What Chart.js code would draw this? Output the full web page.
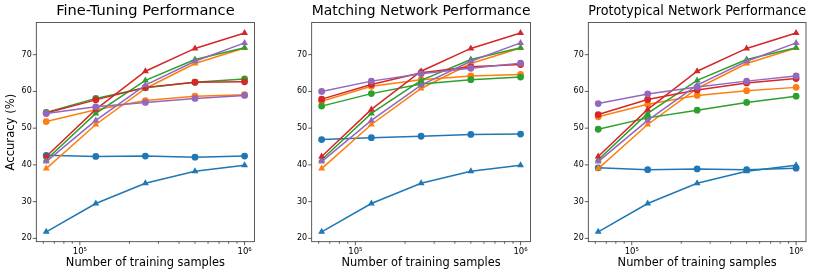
<!DOCTYPE html>
<html>
<head>
<meta charset="utf-8">
<script src="https://cdn.jsdelivr.net/npm/chart.js@4.4.1/dist/chart.umd.min.js"></script>
<style>
  html, body { margin: 0; padding: 0; background: #fff; }
  #wrap { position: relative; width: 830px; height: 277px; }
  #wrap canvas { position: absolute; left: 0; top: 0; }
</style>
</head>
<body>
<div id="wrap">
  <canvas id="c1" width="830" height="277"></canvas>
  <canvas id="c2" width="830" height="277"></canvas>
  <canvas id="c3" width="830" height="277"></canvas>
</div>
<script>
// training set sizes (x)
const xSamples = [62500, 125000, 250000, 500000, 1000000];
const xMajorTicks = [100000, 1000000];
const xMajorLabels = ["10\u2075", "10\u2076"];
const xMinorTicks = [60000, 70000, 80000, 90000, 200000, 300000, 400000, 500000, 600000, 700000, 800000, 900000];
const yTicks = [20, 30, 40, 50, 60, 70];

// triangle series (same in all three panels)
const triBlue = [21.8, 29.5, 35.0, 38.3, 39.9];
const triOrange = [39.0, 51.0, 60.8, 67.6, 71.8];
const triGreen = [41.4, 54.0, 63.0, 68.7, 71.9];
const triRed = [42.3, 55.1, 65.5, 71.7, 75.9];
const triPurple = [40.9, 52.1, 61.7, 68.2, 73.2];

// circle series, fine-tuning
const ftBlue = [42.6, 42.3, 42.4, 42.1, 42.4];
const ftOrange = [51.8, 55.0, 57.5, 58.7, 59.1];
const ftGreen = [54.3, 58.1, 61.0, 62.5, 63.4];
const ftRed = [54.1, 57.7, 61.1, 62.5, 62.6];
const ftPurple = [54.0, 55.8, 57.0, 58.1, 58.9];

// circle series, matching network
const mnBlue = [46.9, 47.4, 47.8, 48.3, 48.4];
const mnOrange = [57.3, 61.4, 63.2, 64.2, 64.6];
const mnGreen = [56.0, 59.4, 62.0, 63.2, 63.9];
const mnRed = [57.9, 61.9, 65.1, 66.7, 67.3];
const mnPurple = [60.0, 62.8, 64.8, 66.3, 67.7];

// circle series, prototypical network
const pnBlue = [39.2, 38.7, 38.9, 38.7, 39.1];
const pnOrange = [53.1, 56.5, 58.9, 60.2, 61.1];
const pnGreen = [49.7, 52.8, 54.9, 57.0, 58.7];
const pnRed = [53.7, 57.8, 60.4, 62.3, 63.5];
const pnPurple = [56.7, 59.3, 61.2, 62.8, 64.2];

const colors = ["#1f77b4", "#ff7f0e", "#2ca02c", "#d62728", "#9467bd"];
const FONT = "'DejaVu Sans', sans-serif";

// frame + tick marks, like matplotlib spines
const frameTicks = {
  id: "frameTicks",
  afterDraw(chart) {
    const { ctx, chartArea: a, scales: { x, y } } = chart;
    ctx.save();
    ctx.strokeStyle = "#333";
    ctx.lineWidth = 0.8;
    ctx.strokeRect(a.left, a.top, a.right - a.left, a.bottom - a.top);
    ctx.beginPath();
    x.ticks.forEach((t) => {
      const px = x.getPixelForValue(t.value);
      ctx.moveTo(px, a.bottom);
      ctx.lineTo(px, a.bottom + (t.major ? 3.5 : 2));
    });
    y.ticks.forEach((t) => {
      const py = y.getPixelForValue(t.value);
      ctx.moveTo(a.left, py);
      ctx.lineTo(a.left - 3.5, py);
    });
    ctx.stroke();
    ctx.restore();
  },
};

function makeDatasets(circles, triangles) {
  const out = [];
  circles.forEach((vals, i) => {
    out.push({ vals, style: "circle", r: 3.4, c: colors[i] });
    out.push({ vals: triangles[i], style: "triangle", r: 4, c: colors[i] });
  });
  // later series drawn on top (as in the original)
  return out.reverse().map((d) => ({
    data: d.vals.map((v, k) => ({ x: xSamples[k], y: v })),
    borderColor: d.c,
    backgroundColor: d.c,
    borderWidth: 1.5,
    pointStyle: d.style,
    pointRadius: d.r,
    pointBorderWidth: 0,
    tension: 0,
  }));
}

function makePanel(id, title, circles, pad, yWidth, showYTitle) {
  new Chart(document.getElementById(id), {
    type: "line",
    data: { datasets: makeDatasets(circles, [triBlue, triOrange, triGreen, triRed, triPurple]) },
    options: {
      responsive: false,
      animation: false,
      events: [],
      layout: { padding: { left: pad.left, right: pad.right, top: 0, bottom: 0 } },
      plugins: {
        legend: { display: false },
        tooltip: { enabled: false },
        title: {
          display: true,
          text: title,
          fullSize: false,
          color: "#000",
          font: { family: FONT, size: 14.6, weight: "normal", lineHeight: 1.2 },
          padding: { top: 2.5, bottom: 2.5 },
        },
      },
      scales: {
        x: {
          type: "logarithmic",
          min: 54410,
          max: 1148700,
          grid: { display: false, drawTicks: true, tickLength: 3.5 },
          border: { display: false },
          afterBuildTicks: (s) => {
            s.ticks = xMajorTicks.map((v) => ({ value: v, major: true }))
              .concat(xMinorTicks.map((v) => ({ value: v, major: false })));
          },
          afterFit: (s) => { s.height = 35.3; },
          ticks: {
            autoSkip: false,
            maxRotation: 0,
            padding: 1.5,
            color: "#000",
            font: { family: FONT, size: 8.5 },
            callback: (v) => {
              const i = xMajorTicks.indexOf(v);
              return i >= 0 ? xMajorLabels[i] : "";
            },
          },
          title: {
            display: true,
            text: "Number of training samples",
            color: "#000",
            font: { family: FONT, size: 11.4, lineHeight: 1.2 },
            padding: { top: 0, bottom: 7 },
          },
        },
        y: {
          min: 19.1,
          max: 78.75,
          grid: { display: false, drawTicks: true, tickLength: 3.5 },
          border: { display: false },
          afterBuildTicks: (s) => { s.ticks = yTicks.map((v) => ({ value: v })); },
          afterFit: (s) => { s.width = yWidth; },
          ticks: {
            padding: 1,
            color: "#000",
            font: { family: FONT, size: 8 },
          },
          title: {
            display: showYTitle,
            text: "Accuracy (%)",
            color: "#000",
            font: { family: FONT, size: 11.6, lineHeight: 1.2 },
            padding: { top: 4, bottom: 0 },
          },
        },
      },
    },
    plugins: [frameTicks],
  });
}

makePanel("c1", "Fine-Tuning Performance",
  [ftBlue, ftOrange, ftGreen, ftRed, ftPurple], { left: 0, right: 575.5 }, 36.3, true);
makePanel("c2", "Matching Network Performance",
  [mnBlue, mnOrange, mnGreen, mnRed, mnPurple], { left: 270, right: 299.5 }, 41.7, false);
makePanel("c3", "Prototypical Network Performance",
  [pnBlue, pnOrange, pnGreen, pnRed, pnPurple], { left: 550, right: 24 }, 38.3, false);
</script>
</body>
</html>
